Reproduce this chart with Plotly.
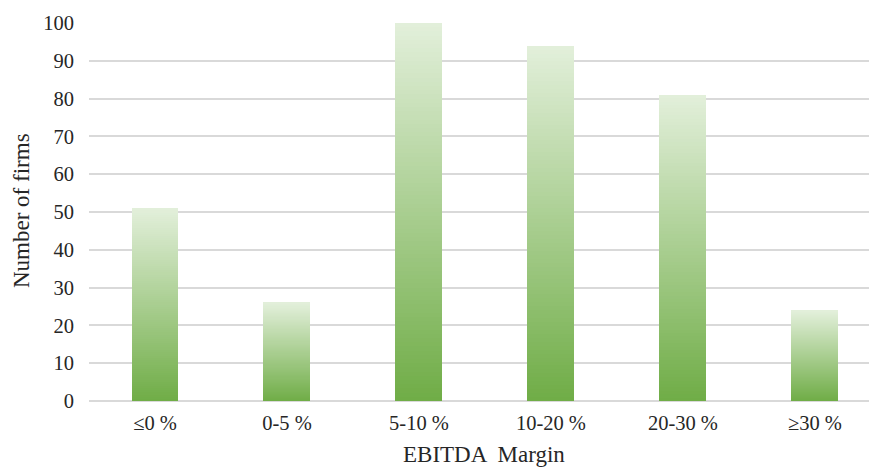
import plotly.graph_objects as go

# EBITDA margin buckets and firm counts
categories = ["≤0 %", "0-5 %", "5-10 %", "10-20 %", "20-30 %", "≥30 %"]
firms = [51, 26, 100, 94, 81, 24]
y_ticks = list(range(0, 101, 10))

# Vertical gradient (bottom -> top) built from stacked slices of each bar
BOTTOM = (112, 173, 71)
TOP = (226, 239, 218)
N_SLICES = 90


def mix(t):
    r, g, b = (round(BOTTOM[i] + (TOP[i] - BOTTOM[i]) * t) for i in range(3))
    return f"rgb({r},{g},{b})"


fig = go.Figure()
for k in range(N_SLICES):
    fig.add_trace(go.Bar(
        x=categories,
        y=[v / N_SLICES for v in firms],
        marker=dict(color=mix(k / (N_SLICES - 1)), line=dict(width=0)),
        hoverinfo="skip",
        showlegend=False,
    ))

FONT = "Liberation Serif, Times New Roman, serif"
TXT = "#262626"
TICK_SIZE = 20.5
TITLE_SIZE = 23

fig.update_layout(
    width=869, height=468,
    margin=dict(l=89, r=0, t=23, b=67),
    paper_bgcolor="white", plot_bgcolor="white",
    barmode="stack", bargap=0.644,
    font=dict(family=FONT, color=TXT, size=TICK_SIZE),
    xaxis=dict(
        range=[-0.5, 5.41],
        showgrid=False, zeroline=False,
        showline=False,
        ticks="", ticklabelstandoff=7,
        tickfont=dict(family=FONT, size=TICK_SIZE, color=TXT),
    ),
    yaxis=dict(
        range=[0, 100], tickvals=y_ticks,
        showgrid=True, gridcolor="#d9d9d9", gridwidth=1.6,
        zeroline=True, zerolinecolor="#d9d9d9", zerolinewidth=1.6,
        showline=False, ticks="", ticklabelstandoff=14,
        tickfont=dict(family=FONT, size=TICK_SIZE, color=TXT),
    ),
    annotations=[
        dict(text="EBITDA  Margin", xref="paper", yref="paper",
             x=(484 - 89) / 780, y=-(454 - 401) / 378, xanchor="center", yanchor="middle",
             showarrow=False, font=dict(family=FONT, size=TITLE_SIZE, color=TXT)),
        dict(text="Number of firms", xref="paper", yref="paper",
             x=-(89 - 21) / 780, y=(401 - 211) / 378, xanchor="center", yanchor="middle",
             textangle=-90, showarrow=False,
             font=dict(family=FONT, size=TITLE_SIZE, color=TXT)),
    ],
)

fig.write_html("out.html")
